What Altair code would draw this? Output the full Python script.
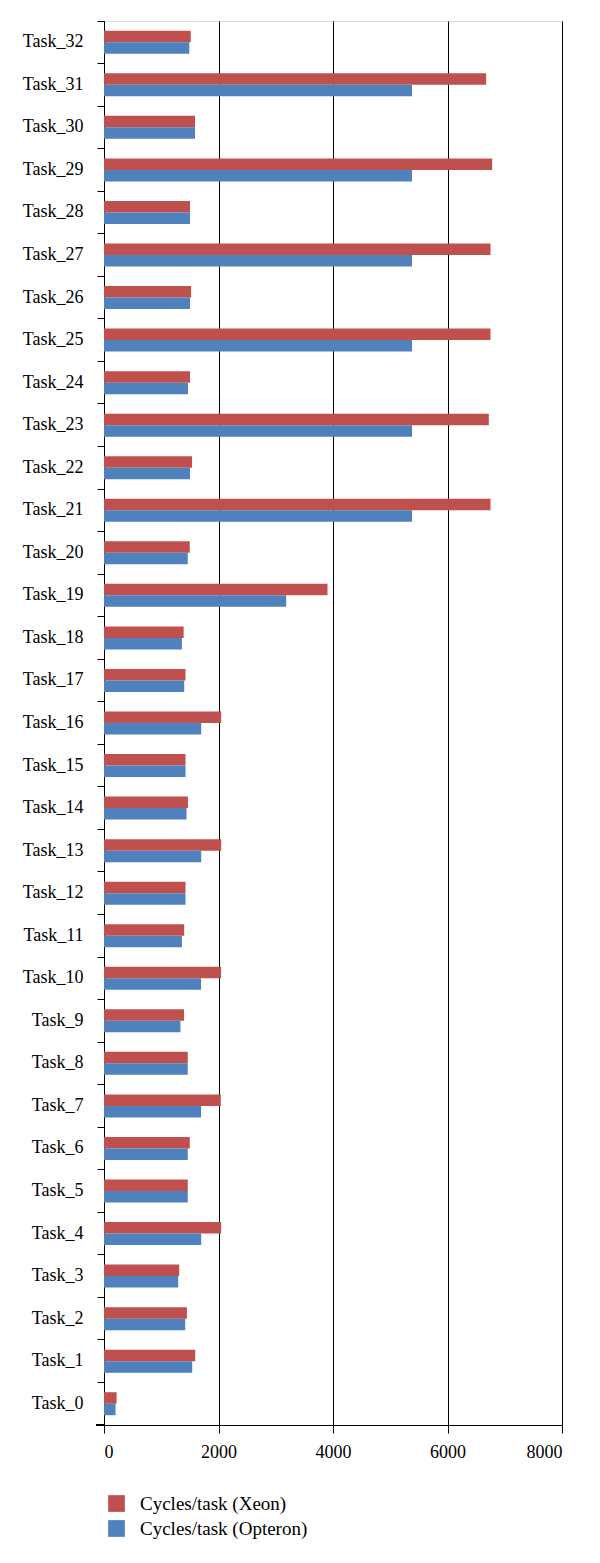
import altair as alt
import pandas as pd

tasks = [f"Task_{i}" for i in range(33)]
xeon = [220, 1593, 1448, 1314, 2047, 1463, 1498, 2040, 1463, 1398, 2045, 1401, 1424,
        2047, 1466, 1424, 2047, 1424, 1391, 3904, 1498, 6751, 1538, 6722, 1503, 6751,
        1521, 6751, 1503, 6780, 1590, 6675, 1515]
opteron = [202, 1541, 1419, 1296, 1698, 1463, 1463, 1696, 1463, 1335, 1696, 1361, 1424,
           1698, 1442, 1424, 1698, 1401, 1361, 3182, 1463, 5381, 1503, 5381, 1468, 5381,
           1503, 5381, 1503, 5381, 1590, 5381, 1490]
series = ["Cycles/task (Xeon)", "Cycles/task (Opteron)"]
colors = ["#C0504D", "#4F81BD"]
x_ticks = [0, 2000, 4000, 6000, 8000]

rows = []
for t, a, b in zip(tasks, xeon, opteron):
    rows.append({"task": t, "series": series[0], "value": a})
    rows.append({"task": t, "series": series[1], "value": b})
df = pd.DataFrame(rows)

FONT = "Liberation Serif"
W, H = 458, 1404

bars = alt.Chart(df).mark_bar().encode(
    y=alt.Y("task:N", sort=list(reversed(tasks)),
            scale=alt.Scale(paddingInner=0, paddingOuter=0),
            axis=alt.Axis(title=None, bandPosition=0, tickSize=7, tickColor="black",
                          domainColor="black", labelFont=FONT, labelFontSize=18,
                          labelColor="black", labelPadding=14, grid=False)),
    x=alt.X("value:Q", scale=alt.Scale(domain=[0, 8000], nice=False),
            axis=alt.Axis(title=None, values=x_ticks, format="d", tickSize=8,
                          tickColor="black", domainColor="black", gridColor="black",
                          gridOpacity=1, labelFont=FONT, labelFontSize=18,
                          labelColor="black", labelPadding=10)),
    yOffset=alt.YOffset("series:N", sort=series,
                        scale=alt.Scale(paddingInner=0, paddingOuter=0.85)),
    color=alt.Color("series:N", sort=series,
                    scale=alt.Scale(domain=series, range=colors),
                    legend=alt.Legend(title=None, orient="none", legendX=3, legendY=1473,
                                      symbolType="square", symbolSize=280,
                                      symbolStrokeWidth=0, labelFont=FONT,
                                      labelFontSize=19, labelColor="black",
                                      labelLimit=0, labelOffset=14, rowPadding=5,
                                      padding=0)),
)

corner = alt.Chart(df).mark_rule(color="black").encode(
    x=alt.value(-8), x2=alt.value(0), y=alt.value(H)
)

chart = alt.layer(bars, corner).properties(
    width=W, height=H,
    autosize=alt.AutoSizeParams(type="none"),
    padding={"left": 96, "top": 13, "right": 30, "bottom": 130},
).configure_view(stroke=None).configure(background="white")

chart.save("out.html", embed_options={"renderer": "svg", "actions": False})
